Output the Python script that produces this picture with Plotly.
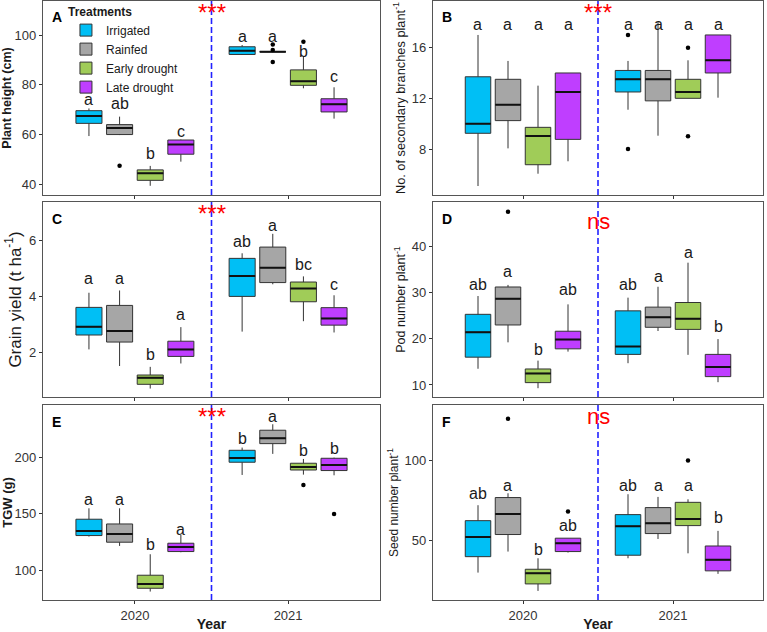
import plotly.graph_objects as go

years = ["2020", "2021"]
treatments = ["Irrigated", "Rainfed", "Early drought", "Late drought"]
colors = ["#00BFF5", "#A6A6A6", "#A0CC58", "#BF3EFF"]

# ---- Panel A: Plant height (cm); each row = treatment, [2020, 2021]
A_low = [[59.4, 92.0], [59.8, 93.3], [39.4, 78.6], [49.1, 66.4]]
A_q1 = [[64.5, 92.2], [60.0, 93.3], [41.6, 79.8], [52.1, 69.1]]
A_med = [[67.5, 93.7], [62.6, 93.3], [44.4, 81.4], [56.0, 72.2]]
A_q3 = [[69.6, 95.3], [64.0, 93.3], [45.8, 86.0], [57.8, 74.4]]
A_high = [[70.5, 96.0], [67.2, 93.3], [47.4, 91.3], [58.0, 79.0]]
A_out = [[[], []], [[47.5], [96.2, 94.0, 89.2]], [[], [97.3]], [[], []]]
A_letters = [["a", "a"], ["ab", "a"], ["b", "b"], ["c", "c"]]
A_letter_y = [[74.2, 99.6], [72.3, 99.6], [52.2, 93.3], [61.4, 83.3]]

# ---- Panel B: secondary branches
B_low = [[5.08, 11.1], [8.05, 9.05], [6.05, 12.0], [7.03, 12.05]]
B_q1 = [[9.24, 12.5], [10.24, 11.8], [6.76, 12.0], [8.76, 14.0]]
B_med = [[10.0, 13.5], [11.5, 13.5], [9.03, 12.5], [12.5, 15.0]]
B_q3 = [[13.7, 14.2], [13.5, 14.2], [9.71, 13.5], [14.0, 17.0]]
B_high = [[17.0, 14.95], [14.95, 18.0], [13.0, 15.0], [14.0, 17.0]]
B_out = [[[], [17.0, 8.0]], [[], []], [[], [16.0, 9.0]], [[], []]]
B_letters = [["a", "a"], ["a", "a"], ["a", "a"], ["a", "a"]]
B_letter_y = [[17.8, 17.8], [17.8, 17.8], [17.8, 17.8], [17.8, 17.8]]

# ---- Panel C: Grain yield
C_low = [[2.12, 2.75], [1.53, 4.43], [0.73, 3.12], [1.62, 2.72]]
C_q1 = [[2.63, 4.0], [2.38, 4.49], [0.88, 3.81], [1.87, 2.98]]
C_med = [[2.92, 4.72], [2.77, 5.02], [1.11, 4.28], [2.12, 3.22]]
C_q3 = [[3.61, 5.35], [3.68, 5.75], [1.21, 4.51], [2.41, 3.6]]
C_high = [[4.13, 5.53], [4.21, 6.22], [1.50, 4.71], [2.91, 4.04]]
C_out = [[[], []], [[], []], [[], []], [[], []]]
C_letters = [["a", "ab"], ["a", "a"], ["b", "bc"], ["a", "c"]]
C_letter_y = [[4.64, 5.94], [4.64, 6.51], [1.94, 5.14], [3.36, 4.43]]

# ---- Panel D: Pod number
D_low = [[13.5, 14.7], [19.2, 21.65], [9.3, 16.5], [17.2, 10.6]]
D_q1 = [[16.0, 16.6], [22.95, 22.45], [10.5, 22.0], [17.8, 11.8]]
D_med = [[21.4, 18.3], [28.6, 24.6], [12.5, 24.3], [19.8, 13.9]]
D_q3 = [[25.25, 26.0], [31.15, 26.8], [13.45, 27.8], [21.6, 16.6]]
D_high = [[29.2, 28.85], [31.6, 31.2], [15.25, 36.4], [27.4, 19.9]]
D_out = [[[], []], [[47.4], []], [[], []], [[], []]]
D_letters = [["ab", "ab"], ["a", "a"], ["b", "a"], ["ab", "b"]]
D_letter_y = [[31.6, 31.6], [34.6, 33.5], [17.55, 38.6], [30.5, 22.6]]

# ---- Panel E: TGW
E_low = [[129.9, 184.6], [121.6, 203.3], [81.1, 184.9], [116.0, 184.3]]
E_q1 = [[130.8, 195.9], [124.9, 212.4], [84.0, 189.0], [116.6, 188.5]]
E_med = [[134.9, 199.7], [132.2, 217.2], [87.9, 191.7], [120.7, 193.5]]
E_q3 = [[145.3, 206.5], [141.1, 224.3], [95.6, 195.0], [124.0, 199.4]]
E_high = [[155.0, 208.9], [155.0, 229.6], [114.2, 198.8], [131.4, 200.0]]
E_out = [[[], []], [[], []], [[], [175.7]], [[], [150.0]]]
E_letters = [["a", "b"], ["a", "a"], ["b", "b"], ["a", "b"]]
E_letter_y = [[163.0, 217.2], [162.4, 236.4], [122.5, 205.9], [136.4, 208.3]]

# ---- Panel F: Seed number
F_low = [[29.7, 38.7], [42.9, 50.8], [18.2, 41.8], [42.3, 28.9]]
F_q1 = [[39.7, 40.6], [53.6, 54.2], [22.6, 59.2], [42.9, 30.8]]
F_med = [[52.1, 58.8], [66.5, 60.7], [29.3, 63.4], [48.1, 37.7]]
F_q3 = [[62.3, 66.1], [76.8, 70.5], [31.8, 73.8], [51.3, 46.4]]
F_high = [[72.0, 78.9], [79.5, 77.2], [38.7, 75.7], [51.3, 55.9]]
F_out = [[[], []], [[126.2], []], [[], [100.0]], [[68.0], []]]
F_letters = [["ab", "ab"], ["a", "a"], ["b", "a"], ["ab", "b"]]
F_letter_y = [[79.3, 84.1], [84.1, 84.1], [44.4, 84.1], [59.0, 64.2]]

panel_names = ["A", "B", "C", "D", "E", "F"]
sig_labels = ["***", "***", "***", "ns", "***", "ns"]
y_titles = [
    "<b>Plant height (cm)</b>",
    "No. of secondary branches plant<sup>-1</sup>",
    "Grain yield (t ha<sup>-1</sup>)",
    "Pod number plant<sup>-1</sup>",
    "<b>TGW (g)</b>",
    "Seed number plant<sup>-1</sup>",
]
y_ranges = [[35.7, 113.7], [4.37, 19.68], [0.43, 7.35], [7.4, 49.5], [73.6, 246.7], [12.5, 134.9]]
y_dticks = [20, 4, 2, 10, 50, 50]

panels = [
    (A_low, A_q1, A_med, A_q3, A_high, A_out, A_letters, A_letter_y),
    (B_low, B_q1, B_med, B_q3, B_high, B_out, B_letters, B_letter_y),
    (C_low, C_q1, C_med, C_q3, C_high, C_out, C_letters, C_letter_y),
    (D_low, D_q1, D_med, D_q3, D_high, D_out, D_letters, D_letter_y),
    (E_low, E_q1, E_med, E_q3, E_high, E_out, E_letters, E_letter_y),
    (F_low, F_q1, F_med, F_q3, F_high, F_out, F_letters, F_letter_y),
]

W, H = 767, 632
x_domains = [[43 / W, 380 / W], [433 / W, 763 / W]]
rows_px = [(1, 195), (202, 397), (405, 600)]
y_domains = [[1 - b / H, 1 - t / H] for t, b in rows_px]
y_title_sizes = [12.5, 12.8, 17, 12.5, 13, 12]
y_title_standoff = [6, 3, 3, 3, 6, 3]

offsets = [-0.3, -0.1, 0.1, 0.3]
box_w = 0.17
line_col = "#333333"
FONT = "Liberation Sans, Arial"

fig = go.Figure()
annotations = []
shapes = []

for p, (low, q1, med, q3, high, outs, letters, letter_y) in enumerate(panels):
    ax = "" if p == 0 else str(p + 1)
    xr, yr = "x" + ax, "y" + ax
    for t in range(4):
        xs = [yi + 1 + offsets[t] for yi in range(len(years))]
        fig.add_trace(go.Box(
            x=xs, q1=q1[t], median=med[t], q3=q3[t],
            lowerfence=low[t], upperfence=high[t],
            width=box_w, fillcolor=colors[t],
            line=dict(color=line_col, width=1), whiskerwidth=0,
            name=treatments[t], legendgroup=treatments[t],
            showlegend=(p == 0), boxpoints=False, hoverinfo="skip",
            xaxis=xr, yaxis=yr,
        ))
        fig.add_trace(go.Box(
            x=xs, q1=med[t], median=med[t], q3=med[t],
            lowerfence=med[t], upperfence=med[t],
            width=box_w, fillcolor="rgba(0,0,0,0)",
            line=dict(color="#111111", width=2), whiskerwidth=0,
            showlegend=False, boxpoints=False, hoverinfo="skip",
            xaxis=xr, yaxis=yr,
        ))
        ox, oy = [], []
        for yi in range(len(years)):
            for v in outs[t][yi]:
                ox.append(xs[yi])
                oy.append(v)
        if oy:
            fig.add_trace(go.Scatter(
                x=ox, y=oy, mode="markers",
                marker=dict(color="black", size=4.5),
                showlegend=False, hoverinfo="skip", xaxis=xr, yaxis=yr,
            ))
        for yi in range(len(years)):
            annotations.append(dict(
                x=xs[yi], y=letter_y[t][yi], xref=xr, yref=yr,
                text=letters[t][yi], showarrow=False,
                font=dict(family=FONT, size=16, color="#1a1a1a"),
            ))
    # panel letter
    annotations.append(dict(
        x=0.022, y=0.915, xref=xr + " domain", yref=yr + " domain",
        text="<b>%s</b>" % panel_names[p], showarrow=False,
        xanchor="left", yanchor="middle",
        font=dict(family=FONT, size=14, color="black"),
    ))
    # significance marker
    if sig_labels[p] == "***":
        annotations.append(dict(
            x=1.5, y=1.0, xref=xr, yref=yr + " domain", text="***",
            showarrow=False, yanchor="top", yshift=4,
            font=dict(family=FONT, size=24, color="red"),
        ))
    else:
        annotations.append(dict(
            x=1.5, y=0.9 if p == 3 else 0.94, xref=xr, yref=yr + " domain", text="ns",
            showarrow=False, yanchor="middle",
            font=dict(family=FONT, size=22, color="red"),
        ))
    shapes.append(dict(
        type="line", xref=xr, yref=yr + " domain", x0=1.5, x1=1.5, y0=0, y1=1,
        line=dict(color="#2222ff", width=1.6, dash="6px,3px"),
    ))

    row, col = p // 2, p % 2
    bottom = row == 2
    xaxis = dict(
        domain=x_domains[col], anchor=yr, range=[0.4, 2.6], automargin=False,
        tickvals=[1, 2], ticktext=years, showticklabels=bottom,
        ticks="outside", ticklen=3, tickcolor=line_col,
        showline=True, mirror=True, linecolor="#555555", linewidth=1.3,
        showgrid=False, zeroline=False,
        tickfont=dict(family=FONT, size=13, color="#333333"),
    )
    if bottom:
        xaxis["title"] = dict(text="<b>Year</b>", standoff=7,
                              font=dict(family=FONT, size=14, color="#1a1a1a"))
    yaxis = dict(
        domain=y_domains[row], anchor=xr, range=y_ranges[p], dtick=y_dticks[p],
        automargin=False,
        ticks="outside", ticklen=3, tickcolor=line_col,
        showline=True, mirror=True, linecolor="#555555", linewidth=1.3,
        showgrid=False, zeroline=False,
        tickfont=dict(family=FONT, size=13, color="#333333"),
        title=dict(text=y_titles[p], standoff=y_title_standoff[p],
                   font=dict(family=FONT, size=y_title_sizes[p], color="#1a1a1a")),
    )
    fig.update_layout({"xaxis" + ax: xaxis, "yaxis" + ax: yaxis})

fig.update_layout(
    width=W, height=H, margin=dict(l=0, r=0, t=0, b=0),
    paper_bgcolor="white", plot_bgcolor="white",
    annotations=annotations, shapes=shapes,
    legend=dict(
        x=0.086, y=1.0, xanchor="left", yanchor="top",
        bgcolor="rgba(255,255,255,0)",
        title=dict(text="<b>Treatments</b>", font=dict(family=FONT, size=12)),
        font=dict(family=FONT, size=12, color="#1a1a1a"),
        tracegroupgap=0, itemwidth=30,
    ),
    showlegend=True,
)

fig.write_html("out.html", config={"displayModeBar": False},
               post_script="document.body.style.margin='0px';")
